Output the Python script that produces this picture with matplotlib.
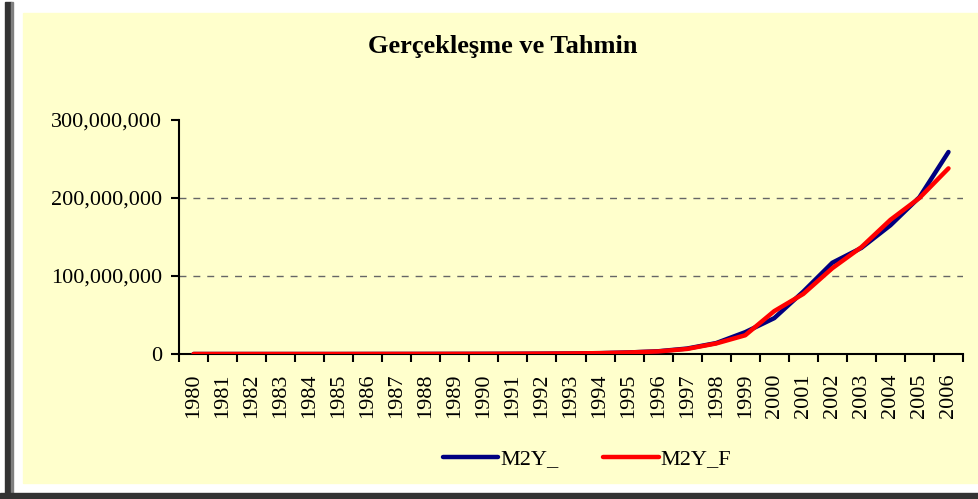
import matplotlib
matplotlib.use("Agg")
import matplotlib.pyplot as plt
from matplotlib.patches import Rectangle
from matplotlib.ticker import FuncFormatter, FixedLocator
import numpy as np

years = [str(y) for y in range(1980, 2007)]
m2y_actual = [0.0, 0.0, 0.0, 0.0, 0.0, 0.0, 0.05e6, 0.08e6, 0.1e6, 0.15e6,
              0.2e6, 0.3e6, 0.45e6, 0.7e6, 1.1e6, 2.0e6, 3.5e6, 7e6, 14e6, 28e6,
              46e6, 80e6, 117e6, 136e6, 165e6, 201e6, 259e6]
m2y_fit = [0.0, 0.0, 0.0, 0.0, 0.0, 0.0, 0.05e6, 0.08e6, 0.1e6, 0.15e6,
           0.2e6, 0.3e6, 0.45e6, 0.7e6, 1.1e6, 2.0e6, 3.3e6, 6.5e6, 13.5e6, 24e6,
           55e6, 77e6, 110e6, 137e6, 172e6, 200e6, 238e6]
y_ticks = [0, 100e6, 200e6, 300e6]

W, H = 979, 499
fig = plt.figure(figsize=(W / 100, H / 100), dpi=100)
fig.patch.set_facecolor("white")
serif = ["Liberation Serif", "DejaVu Serif"]

def px_rect(x0, y0, x1, y1, color):
    fig.patches.append(Rectangle((x0 / W, 1 - y1 / H), (x1 - x0) / W, (y1 - y0) / H,
                                 transform=fig.transFigure, color=color, zorder=-10))

px_rect(23, 13, 979, 483, "#FFFFCC")
px_rect(5, 2, 11, 499, "#333333")
px_rect(11, 2, 13, 499, "#808080")
px_rect(0, 493, 979, 499, "#333333")

left, right, top, bottom = 179, 963, 120, 354
ax = fig.add_axes([left / W, 1 - bottom / H, (right - left) / W, (bottom - top) / H])
ax.set_facecolor("none")
x = np.arange(len(years))
ax.plot(x, m2y_actual, color="#000080", lw=3.2, solid_capstyle="round", label="M2Y_", zorder=3)
ax.plot(x, m2y_fit, color="#FF0000", lw=3.2, solid_capstyle="round", label="M2Y_F", zorder=4)

ax.set_xlim(-0.5, len(years) - 0.5)
ax.set_ylim(0, 300e6)
ax.xaxis.set_major_locator(FixedLocator(np.arange(-0.5, len(years), 1.0)))
ax.xaxis.set_major_formatter(FuncFormatter(lambda v, p: ""))
ax.xaxis.set_minor_locator(FixedLocator(x))
ax.set_xticklabels(years, minor=True, rotation=90, fontsize=16, family=serif)
ax.tick_params(axis="x", which="minor", length=0, pad=14)
ax.tick_params(axis="x", which="major", length=6, width=1.5, direction="out")
ax.set_yticks(y_ticks)
ax.yaxis.set_major_formatter(FuncFormatter(lambda v, p: f"{int(v):,}"))
ax.tick_params(axis="y", length=6, width=1.5, direction="out", labelsize=16, pad=6)
for lab in ax.get_yticklabels():
    lab.set_family(serif)
for s in ["top", "right"]:
    ax.spines[s].set_visible(False)
for s in ["left", "bottom"]:
    ax.spines[s].set_linewidth(1.5)
for gy in [100e6, 200e6]:
    ax.axhline(gy, color="#666666", lw=1, ls=(0, (5, 5)), zorder=1)

fig.text(503 / W, 1 - 46 / H, "Gerçekleşme ve Tahmin", ha="center", va="center",
         fontsize=19, fontweight="bold", family=serif)

leg = fig.legend(loc="center", bbox_to_anchor=(587 / W, 1 - 459 / H), ncol=2, frameon=False,
                 prop={"family": serif, "size": 16}, handlelength=2.5, handletextpad=0.1,
                 columnspacing=2.0)

fig.savefig("out.png", dpi=100)
